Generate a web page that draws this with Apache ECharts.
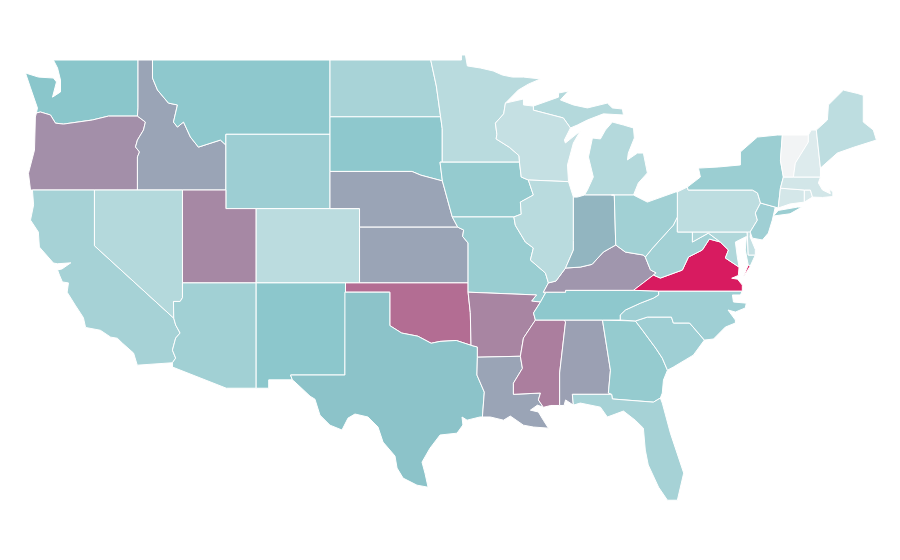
<!DOCTYPE html>
<html>
<head>
<meta charset="utf-8">
<style>
  html, body { margin: 0; background: #fff; }
  #main { width: 900px; height: 560px; }
</style>
<script src="https://cdn.jsdelivr.net/npm/echarts@6/dist/echarts.min.js"></script>
</head>
<body>
<div id="main"></div>
<script>
var stateNames = ['WA','OR','ID','MT','WY','CA','NV','UT','AZ','CO','NM','ND','SD','NE','KS','OK','TX','MN','IA','MO','AR','LA','MS','AL','GA','FL','SC','NC','TN','KY','VA','WV','MD','DE','PA','NJ','NY','CT','RI','MA','VT','NH','ME','MI','WI','IL','IN','OH']
var stateValues = [50,66,60,48,41,37,30,68,39,27,49,36,48,60,60,76,51,28,45,43,69,60,71,61,45,37,40,40,48,64,100,38,32,22,26,40,42,15,13,16,1,11,26,30,22,28,55,39]
var colorStops = ['#f4f5f6', '#8ac6cb', '#d81b60']

// state outlines, lon,lat pairs
var stateRings = {
  WA: ['-124.67,48.3 -123.79,48.08 -122.78,48.03 -122.57,47.82 -122.84,47 -122.3,47.28 -122.3,47.92 -122.5,48.57 -122.78,49 -117.05,49 -117.05,46.42 -117.09,45.98 -119.05,45.98 -120.14,45.77 -122.1,45.55 -122.64,45.6 -122.98,46.04 -123.66,46.2 -123.93,46.15 -123.86,46.42 -124.33,47.5'],
  OR: ['-123.93,46.15 -123.66,46.2 -122.98,46.04 -122.64,45.6 -122.1,45.55 -120.14,45.77 -119.05,45.98 -117.09,45.98 -116.55,45.66 -116.68,45.23 -117.09,44.69 -117.22,44.32 -116.95,44.05 -117.09,43.78 -117.09,42 -124.33,42 -124.47,42.9 -124.06,44.15 -124,45.93'],
  ID: ['-117.05,49 -116.07,49 -116.07,48.03 -115.73,47.38 -114.99,46.68 -114.38,46.58 -114.65,45.66 -114.38,45.39 -113.97,45.66 -113.5,44.85 -112.96,44.31 -111.47,44.69 -111.1,44.42 -111.1,42 -117.09,42 -117.09,43.78 -116.95,44.05 -117.22,44.32 -117.09,44.69 -116.68,45.23 -116.55,45.66 -117.09,45.98 -117.05,46.42'],
  MT: ['-116.07,49 -104.05,49 -104.05,45 -111.1,45 -111.1,44.42 -111.47,44.69 -112.96,44.31 -113.5,44.85 -113.97,45.66 -114.38,45.39 -114.65,45.66 -114.38,46.58 -114.99,46.68 -115.73,47.38 -116.07,48.03'],
  WY: ['-111.1,45 -104.05,45 -104.05,41 -111.1,41'],
  CA: ['-124.2,42 -120,42 -120,39 -114.63,35.1 -114.5,34.73 -114.2,34.3 -114.5,34.03 -114.72,33.38 -114.5,32.95 -114.72,32.7 -117.1,32.57 -117.35,33.22 -118.1,33.75 -118.45,34.02 -118.9,34.08 -119.6,34.45 -120.6,34.6 -120.75,35.13 -121.3,35.8 -121.85,36.5 -121.76,37 -122.17,37.05 -122.37,37.42 -122.5,37.7 -122.2,37.75 -121.6,38.08 -122.5,38.03 -122.78,38.07 -123.73,38.93 -123.8,39.74 -124.33,40.38 -124.12,41.2'],
  NV: ['-120,42 -114.04,42 -114.04,37 -114.04,36.2 -114.2,36 -114.65,36 -114.63,35.1 -120,39'],
  UT: ['-114.04,42 -111.1,42 -111.1,41 -109.05,41 -109.05,37 -114.04,37'],
  AZ: ['-114.04,37 -109.05,37 -109.05,31.33 -111.07,31.33 -114.72,32.47 -114.72,32.7 -114.5,32.95 -114.72,33.38 -114.5,34.03 -114.2,34.3 -114.5,34.73 -114.63,35.1 -114.65,36 -114.2,36 -114.04,36.2'],
  CO: ['-109.05,41 -102.05,41 -102.05,37 -109.05,37'],
  NM: ['-109.05,37 -103,37 -103.04,32.04 -106.72,32.04 -106.6,31.78 -108.2,31.78 -108.2,31.33 -109.05,31.33'],
  ND: ['-104.05,49 -97.23,49 -96.85,47.6 -96.56,45.94 -104.05,45.94'],
  SD: ['-104.05,45.94 -96.56,45.94 -96.45,45.3 -96.45,43.5 -96.6,43.5 -96.44,42.49 -97.9,42.8 -98.5,43 -104.05,43'],
  NE: ['-104.05,43 -98.5,43 -97.9,42.8 -96.44,42.49 -96.03,41.3 -95.77,40.55 -95.4,40 -102.05,40 -102.05,41 -104.05,41'],
  KS: ['-102.05,40 -95.4,40 -95,39.85 -95.07,39.5 -94.7,39.15 -94.7,37 -102.05,37'],
  OK: ['-103,37 -94.7,37 -94.7,36.5 -94.55,35.4 -94.5,33.64 -95.5,33.9 -96.6,33.85 -97.2,33.75 -98.1,34.13 -99.2,34.3 -100,34.7 -100,36.5 -103,36.5'],
  TX: ['-103.04,36.5 -100,36.5 -100,34.7 -99.2,34.3 -98.1,34.13 -97.2,33.75 -96.6,33.85 -95.5,33.9 -94.5,33.64 -94.07,33.55 -94.07,33 -94.1,32.04 -93.6,31.12 -93.73,29.78 -93.9,29.78 -94.77,29.61 -95.11,29.78 -95.05,29.35 -95.45,28.91 -96.6,28.81 -97.28,28.1 -97.82,27.35 -97.62,26.76 -97.41,26 -98.16,26.11 -99.1,26.49 -99.51,27.03 -99.65,27.68 -100.46,28.43 -100.8,29.24 -101.48,29.78 -102.36,29.94 -102.83,29.72 -103.24,29.08 -104.05,29.34 -104.73,29.88 -105.07,30.74 -105.4,30.9 -106.42,31.66 -106.6,31.78 -106.72,32.04 -103.04,32.04'],
  MN: ['-97.23,49 -95.15,49 -95.15,49.27 -94.88,49.27 -94.75,48.68 -93.87,48.57 -93,48.41 -92.38,48.19 -91.7,48.08 -90.95,48.08 -89.8,47.98 -90.62,47.7 -91.3,47.38 -92.17,46.68 -92.29,46.1 -92.85,45.6 -92.75,45 -92.8,44.75 -91.9,44.3 -91.25,43.85 -91.22,43.5 -96.45,43.5 -96.45,45.3 -96.56,45.94 -96.85,47.6'],
  IA: ['-96.6,43.5 -96.45,43.5 -91.22,43.5 -91.1,42.7 -90.62,42.54 -90.28,41.73 -91.16,41.35 -91.1,40.7 -91.6,40.55 -95.77,40.55 -96.03,41.3 -96.44,42.49'],
  MO: ['-95.77,40.55 -91.6,40.55 -91.5,40.1 -90.82,39.2 -90.28,38.88 -90.48,38.23 -89.46,37.53 -89.26,37 -89.6,36.5 -89.46,36.45 -89.8,35.97 -90.4,36.02 -90.07,36.35 -94.7,36.5 -94.7,37 -94.7,39.15 -95.07,39.5 -95,39.85 -95.4,40'],
  AR: ['-94.7,36.5 -90.07,36.35 -90.4,36.02 -89.8,35.97 -90.27,35.38 -90.14,35 -90.95,34.03 -91.16,33.05 -94.07,33 -94.07,33.55 -94.5,33.64 -94.55,35.4'],
  LA: ['-94.07,33 -91.16,33.05 -91.02,32.4 -91.63,31.6 -91.63,31 -89.8,31.07 -89.94,30.7 -89.6,30.3 -90,30.42 -90.48,30.15 -89.94,30.05 -89.6,29.6 -89.26,29.18 -90.28,29.24 -90.95,29.34 -91.84,29.83 -92.3,29.61 -93.19,29.78 -93.73,29.78 -93.6,31.12 -94.1,32.04'],
  MS: ['-90.14,35 -88.2,35 -88.1,34.9 -88.5,32.15 -88.5,30.4 -89.1,30.4 -89.6,30.3 -89.94,30.7 -89.8,31.07 -91.63,31 -91.63,31.6 -91.02,32.4 -91.16,33.05 -90.95,34.03'],
  AL: ['-88.2,35 -85.6,35 -85.06,32.3 -85.2,31.07 -84.98,31 -87.64,31 -87.57,30.42 -88.1,30.7 -88.2,30.4 -88.5,30.4 -88.5,32.15 -88.1,34.9'],
  GA: ['-85.6,35 -83.37,34.95 -82.9,34.46 -82,33.49 -81.55,32.95 -81.2,32.3 -81.47,31.77 -81.55,31.07 -81.68,30.8 -82.15,30.58 -84.93,30.75 -84.98,31 -85.2,31.07 -85.06,32.3'],
  FL: ['-87.64,31 -84.98,31 -84.93,30.75 -82.15,30.58 -81.68,30.8 -81.55,30.53 -81,28.91 -80.1,26.76 -80.53,25.3 -81.2,25.3 -81.8,26 -82.5,27.2 -82.7,28 -82.83,29.18 -83.37,29.6 -84.18,30.1 -85.27,29.78 -85.74,30.31 -87.1,30.53 -87.57,30.42'],
  SC: ['-83.37,34.95 -82.56,35.16 -80.93,35.16 -80.8,34.84 -79.7,34.84 -78.7,33.92 -79.45,33.11 -80,32.85 -80.8,32.47 -81.2,32.3 -81.55,32.95 -82,33.49 -82.9,34.46'],
  NC: ['-84.4,35 -83.37,34.95 -82.56,35.16 -80.93,35.16 -80.8,34.84 -79.7,34.84 -78.7,33.92 -78.08,33.98 -77.28,34.62 -76.6,34.84 -76.6,35 -77.1,35.54 -76.6,35.43 -75.93,35.65 -75.86,35.91 -76.73,35.97 -76.8,36.35 -76.26,36.35 -76.13,36.56 -81.8,36.56 -81.8,36.35 -82.15,36.18 -83.03,35.91 -84.05,35.54 -84.4,35.27'],
  TN: ['-90.14,35 -88.2,35 -85.6,35 -84.4,35 -84.4,35.27 -84.05,35.54 -83.03,35.91 -82.15,36.18 -81.8,36.35 -81.8,36.56 -83.5,36.6 -88.1,36.6 -88.1,36.5 -89.6,36.5 -89.46,36.45 -89.8,35.97 -90.27,35.38'],
  KY: ['-89.6,36.5 -89.26,37 -88.75,37.1 -88.1,37.8 -87.1,37.85 -86.3,38 -85.54,38.66 -84.7,39.04 -84.05,38.66 -82.83,38.5 -82.7,38.39 -82.35,37.7 -81.97,37.54 -82.15,37.42 -83.5,36.6 -88.1,36.6 -88.1,36.5'],
  VA: ['-83.5,36.6 -81.8,36.56 -76.13,36.56 -76.13,36.88 -76.45,37.2 -76.85,37.25 -76.4,37.4 -76.35,37.85 -77.28,38.34 -77.07,38.77 -77.62,39.2 -78.36,39.36 -78.84,38.77 -79.78,38.39 -80.19,37.69 -81.68,37.26 -82.15,37.42', '-75.6,37.9 -76.07,37.31 -75.73,37.97'],
  WV: ['-82.7,38.39 -82.2,38.88 -80.8,40.11 -80.53,40.55 -80.53,39.74 -79.51,39.74 -79.51,39.2 -78.43,39.68 -77.62,39.2 -78.36,39.36 -78.84,38.77 -79.78,38.39 -80.19,37.69 -81.68,37.26 -82.15,37.42 -81.97,37.54 -82.35,37.7'],
  MD: ['-79.51,39.74 -75.8,39.74 -75.73,38.5 -75.25,38.5 -75.6,37.9 -75.73,37.97 -75.93,38.77 -75.85,39.5 -76.6,39.2 -76.47,38.4 -76.35,37.85 -77.28,38.34 -77.07,38.77 -77.62,39.2 -78.43,39.68 -79.51,39.2'],
  DE: ['-75.8,39.74 -75.55,39.8 -75.6,39.47 -75.25,38.8 -75.25,38.5 -75.73,38.5'],
  PA: ['-80.53,41.9 -79.85,42.16 -79.8,42 -75.45,42 -75.1,41.84 -74.9,41.3 -75.25,40.76 -75.11,40.38 -75.6,39.74 -75.8,39.74 -80.53,39.74 -80.53,40.55'],
  NJ: ['-74.9,41.3 -73.9,41.08 -74.1,40.38 -74.37,39.68 -74.77,39.31 -75.45,39.41 -75.6,39.74 -75.11,40.38 -75.25,40.76'],
  NY: ['-79.85,42.16 -78.97,42.7 -79.1,43.18 -77.75,43.24 -76.26,43.35 -76.26,44.05 -75.11,44.85 -73.76,44.96 -73.42,44.96 -73.55,43.6 -73.35,42.7 -73.55,42.1 -73.7,41.03 -73.9,41.08 -74.9,41.3 -75.1,41.84 -75.45,42 -79.8,42', '-74.03,40.6 -73.7,40.9 -72.4,41.08 -72.1,41.08 -72.9,40.72'],
  CT: ['-73.55,42.1 -71.93,42 -71.93,41.35 -72.9,41.25 -73.7,41.03'],
  RI: ['-71.93,42 -71.52,42 -71.38,41.62 -71.93,41.35'],
  MA: ['-73.55,42.1 -73.35,42.7 -72.67,42.7 -70.84,42.7 -70.98,42.38 -70.7,42 -70.17,41.8 -70.25,42.05 -70,41.9 -70,41.65 -70.7,41.6 -71.38,41.62 -71.52,42 -71.93,42'],
  VT: ['-73.42,44.96 -71.66,44.96 -71.66,44.58 -72.54,43.45 -72.67,42.7 -73.35,42.7 -73.55,43.6'],
  NH: ['-71.66,44.96 -71.46,45.23 -71.12,45.23 -70.84,43.18 -70.84,42.7 -72.67,42.7 -72.54,43.45 -71.66,44.58'],
  ME: ['-71.12,45.23 -70.37,45.77 -70.3,46.58 -69.29,47.38 -68.34,47.2 -67.94,47.1 -67.94,45.66 -67.26,45.23 -67.05,44.69 -68.6,44.3 -69.7,43.99 -70.84,43.18'],
  MI: ['-86.22,42.7 -86.62,42 -86.82,41.73 -85,41.73 -83.5,41.73 -83.17,42.38 -82.56,42.92 -82.83,43.99 -83.23,43.99 -83.91,43.62 -83.85,43.99 -83.44,44.8 -83.5,45.34 -84.18,45.5 -84.93,45.66 -85.4,45.23 -85.74,44.75 -86.28,44.8 -86.55,43.78', '-90.28,46.3 -90.28,46.52 -88.58,47 -88.58,47.22 -87.9,47.33 -88.45,46.85 -87.57,46.58 -86.62,46.42 -85.27,46.68 -84.93,46.42 -84.25,46.36 -84.18,46.04 -85.54,46.1 -86.62,45.77 -87.3,45.5 -87.77,45.34 -88.25,45.88'],
  WI: ['-92.17,46.68 -90.95,46.9 -90.95,46.58 -90.28,46.52 -90.28,46.3 -88.25,45.88 -87.77,45.34 -88.18,44.69 -88.11,44.53 -87.1,45.18 -87.57,44.53 -87.97,43.35 -87.9,42.45 -90.62,42.54 -91.1,42.7 -91.22,43.5 -91.25,43.85 -91.9,44.3 -92.8,44.75 -92.75,45 -92.85,45.6 -92.29,46.1'],
  IL: ['-90.62,42.54 -87.9,42.45 -87.57,41.62 -87.57,39.3 -87.57,38.77 -88.1,37.8 -88.75,37.1 -89.26,37 -89.46,37.53 -90.48,38.23 -90.28,38.88 -90.82,39.2 -91.5,40.1 -91.6,40.55 -91.1,40.7 -91.16,41.35 -90.28,41.73'],
  IN: ['-87.57,41.62 -87.3,41.62 -86.82,41.73 -85,41.73 -84.8,41.73 -84.7,39.04 -85.54,38.66 -86.3,38 -87.1,37.85 -88.1,37.8 -87.57,38.77 -87.57,39.3'],
  OH: ['-85,41.73 -83.5,41.73 -82.56,41.35 -80.66,41.89 -80.53,41.9 -80.53,40.55 -80.8,40.11 -82.2,38.88 -82.7,38.39 -82.83,38.5 -84.05,38.66 -84.7,39.04 -84.8,41.73']
}

function parseRing(text) {
  var pts = text.split(' ').map(function (p) {
    return p.split(',').map(Number)
  })
  pts.push(pts[0])
  return pts
}

var features = stateNames.map(function (name) {
  return {
    type: 'Feature',
    properties: { name: name },
    geometry: {
      type: 'MultiPolygon',
      coordinates: stateRings[name].map(function (r) { return [parseRing(r)] })
    }
  }
})

echarts.registerMap('usa', { type: 'FeatureCollection', features: features })

var chart = echarts.init(document.getElementById('main'))
chart.setOption({
  animation: false,
  backgroundColor: '#ffffff',
  visualMap: {
    show: false,
    min: 0,
    max: 100,
    inRange: { color: colorStops }
  },
  series: [
    {
      type: 'map',
      map: 'usa',
      silent: true,
      aspectScale: 0.795,
      boundingCoords: [[-124.73, 49], [-66.97, 25.15]],
      left: 24.6,
      top: 60,
      width: 853,
      height: 443,
      label: { show: false },
      itemStyle: { borderColor: '#ffffff', borderWidth: 1 },
      data: stateNames.map(function (name, i) {
        return { name: name, value: stateValues[i] }
      })
    }
  ]
})
</script>
</body>
</html>
